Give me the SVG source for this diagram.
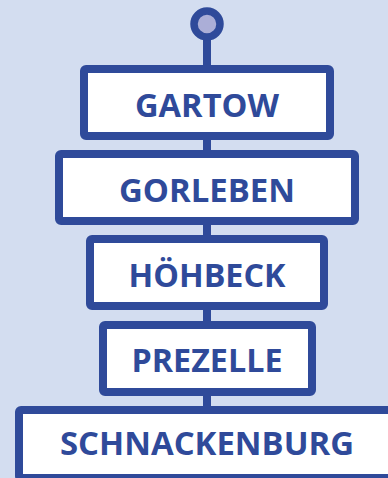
<svg xmlns="http://www.w3.org/2000/svg" width="388" height="478" viewBox="0 0 388 478">
<style>
.box{fill:#ffffff;stroke:#2f4a9a;stroke-width:8;stroke-linejoin:round}
.lbl{font-family:"Open Sans","Noto Sans",sans-serif;font-weight:700;font-size:32px;fill:#2f4a9a;text-anchor:middle}
.conn{stroke:#2f4a9a;stroke-width:8;fill:none}
</style>
<rect width="388" height="478" fill="#d3ddf0"/>
<g id="connectors">
<line class="conn" x1="207" y1="37" x2="207" y2="410"/>
</g>
<g id="start">
<circle cx="207" cy="24" r="13" fill="#abaed7" stroke="#2f4a9a" stroke-width="7.5"/>
</g>
<g id="gartow">
<rect class="box" x="84" y="69" width="246" height="67" rx="2"/>
<text class="lbl" x="207" y="117" textLength="144" lengthAdjust="spacingAndGlyphs">GARTOW</text>
</g>
<g id="gorleben">
<rect class="box" x="59" y="154" width="296" height="67" rx="2"/>
<text class="lbl" x="207" y="202" textLength="176" lengthAdjust="spacingAndGlyphs">GORLEBEN</text>
</g>
<g id="hoehbeck">
<rect class="box" x="90" y="239" width="234" height="67" rx="2"/>
<text class="lbl" x="207" y="287" textLength="157" lengthAdjust="spacingAndGlyphs">HÖHBECK</text>
</g>
<g id="prezelle">
<rect class="box" x="103" y="325" width="209" height="67" rx="2"/>
<text class="lbl" x="207" y="372" textLength="151" lengthAdjust="spacingAndGlyphs">PREZELLE</text>
</g>
<g id="schnackenburg">
<rect class="box" x="19" y="410" width="400" height="68" rx="2"/>
<text class="lbl" x="207" y="455" textLength="294" lengthAdjust="spacingAndGlyphs">SCHNACKENBURG</text>
</g>
</svg>
